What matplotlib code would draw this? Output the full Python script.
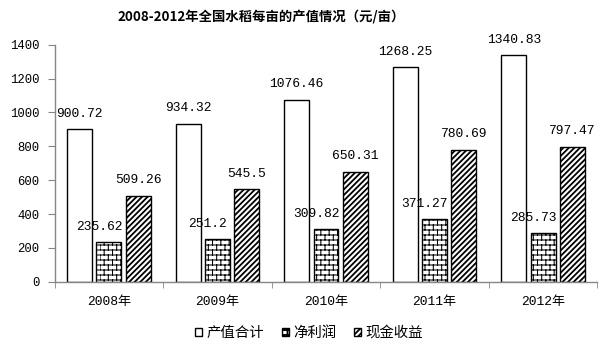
import warnings
import numpy as np
import matplotlib
matplotlib.use('Agg')
import matplotlib.pyplot as plt
from matplotlib import hatch as mhatch
from matplotlib.path import Path

warnings.filterwarnings('ignore')

years = ['2008年', '2009年', '2010年', '2011年', '2012年']
output_value = [900.72, 934.32, 1076.46, 1268.25, 1340.83]
net_profit = [235.62, 251.2, 309.82, 371.27, 285.73]
cash_income = [509.26, 545.5, 650.31, 780.69, 797.47]
series_names = ['产值合计', '净利润', '现金收益']
y_ticks = [0, 200, 400, 600, 800, 1000, 1200, 1400]


# brick hatch ('b'), matplotlib has none built in
class BrickHatch(mhatch.HatchPatternBase):
    def __init__(self, hatch, density):
        self.num_rows = 10 * hatch.count('b')
        self.num_cols = 12 * hatch.count('b') // 2
        self.num_vertices = (self.num_rows + self.num_rows * self.num_cols) * 2

    def set_vertices_and_codes(self, vertices, codes):
        n, m = self.num_rows, self.num_cols
        k = 0
        for i in range(n):
            y0 = i / n
            vertices[k] = (0.0, y0)
            vertices[k + 1] = (1.0, y0)
            k += 2
            shift = 0.5 if i % 2 else 0.0
            for j in range(m):
                xx = (j + shift) / m
                vertices[k] = (xx, y0)
                vertices[k + 1] = (xx, y0 + 1.0 / n)
                k += 2
        codes[0::2] = Path.MOVETO
        codes[1::2] = Path.LINETO


mhatch._hatch_types.append(BrickHatch)

num_font = ['Liberation Mono', 'Noto Sans CJK SC']
cjk_font = ['Noto Sans CJK SC', 'DejaVu Sans']
axis_grey = '#868686'

fig = plt.figure(figsize=(6.12, 3.5), dpi=100)
ax = fig.add_axes([54.7 / 612, 1 - 281.7 / 350, 542.6 / 612, 236.9 / 350])

x = np.arange(len(years))
w = 0.23
step = 0.27
hatches = [None, 'bb', '//////']
hatch_lw = [0.8, 0.75, 1.3]
data = [output_value, net_profit, cash_income]
label_dx = [0, -10, 0]

for k in range(3):
    plt.rcParams['hatch.linewidth'] = hatch_lw[k]
    bars = ax.bar(x + (k - 1) * step, data[k], w, color='white',
                  edgecolor='black', linewidth=1.0, label=series_names[k],
                  hatch=hatches[k])
    for b, v in zip(bars, data[k]):
        ax.annotate(('%.2f' % v).rstrip('0').rstrip('.'),
                    (b.get_x() + b.get_width() / 2, v),
                    xytext=(label_dx[k] * 0.72, 11), textcoords='offset points',
                    ha='center', va='center', fontsize=9.4, family=num_font)

ax.set_xlim(-0.5, len(years) - 0.5)
ax.set_ylim(0, 1400)
ax.set_yticks(y_ticks)
ax.set_yticklabels([str(t) for t in y_ticks], family=num_font, fontsize=8.8)
ax.set_xticks(x)
ax.set_xticklabels(years, family=num_font, fontsize=9.4)
ax.set_xticks(np.arange(len(years) + 1) - 0.5, minor=True)
ax.tick_params(axis='x', which='major', length=0, pad=10)
ax.tick_params(axis='x', which='minor', length=4, color=axis_grey, direction='out')
ax.tick_params(axis='y', length=5, color=axis_grey, pad=6, direction='out')

for s in ['top', 'right']:
    ax.spines[s].set_visible(False)
for s in ['left', 'bottom']:
    ax.spines[s].set_color(axis_grey)
    ax.spines[s].set_linewidth(1.0)

fig.text(261 / 612, 1 - 17 / 350, '2008-2012年全国水稻每亩的产值情况（元/亩）',
         ha='center', va='center', fontsize=9.6, fontweight='bold', family=cjk_font)

fig.legend(loc='center', bbox_to_anchor=(309 / 612, 17 / 350), ncol=3,
           frameon=False, prop={'family': cjk_font, 'size': 10.4},
           handlelength=0.5, handleheight=0.5, handletextpad=0.3,
           columnspacing=1.2)

fig.savefig('out.png', dpi=100)
